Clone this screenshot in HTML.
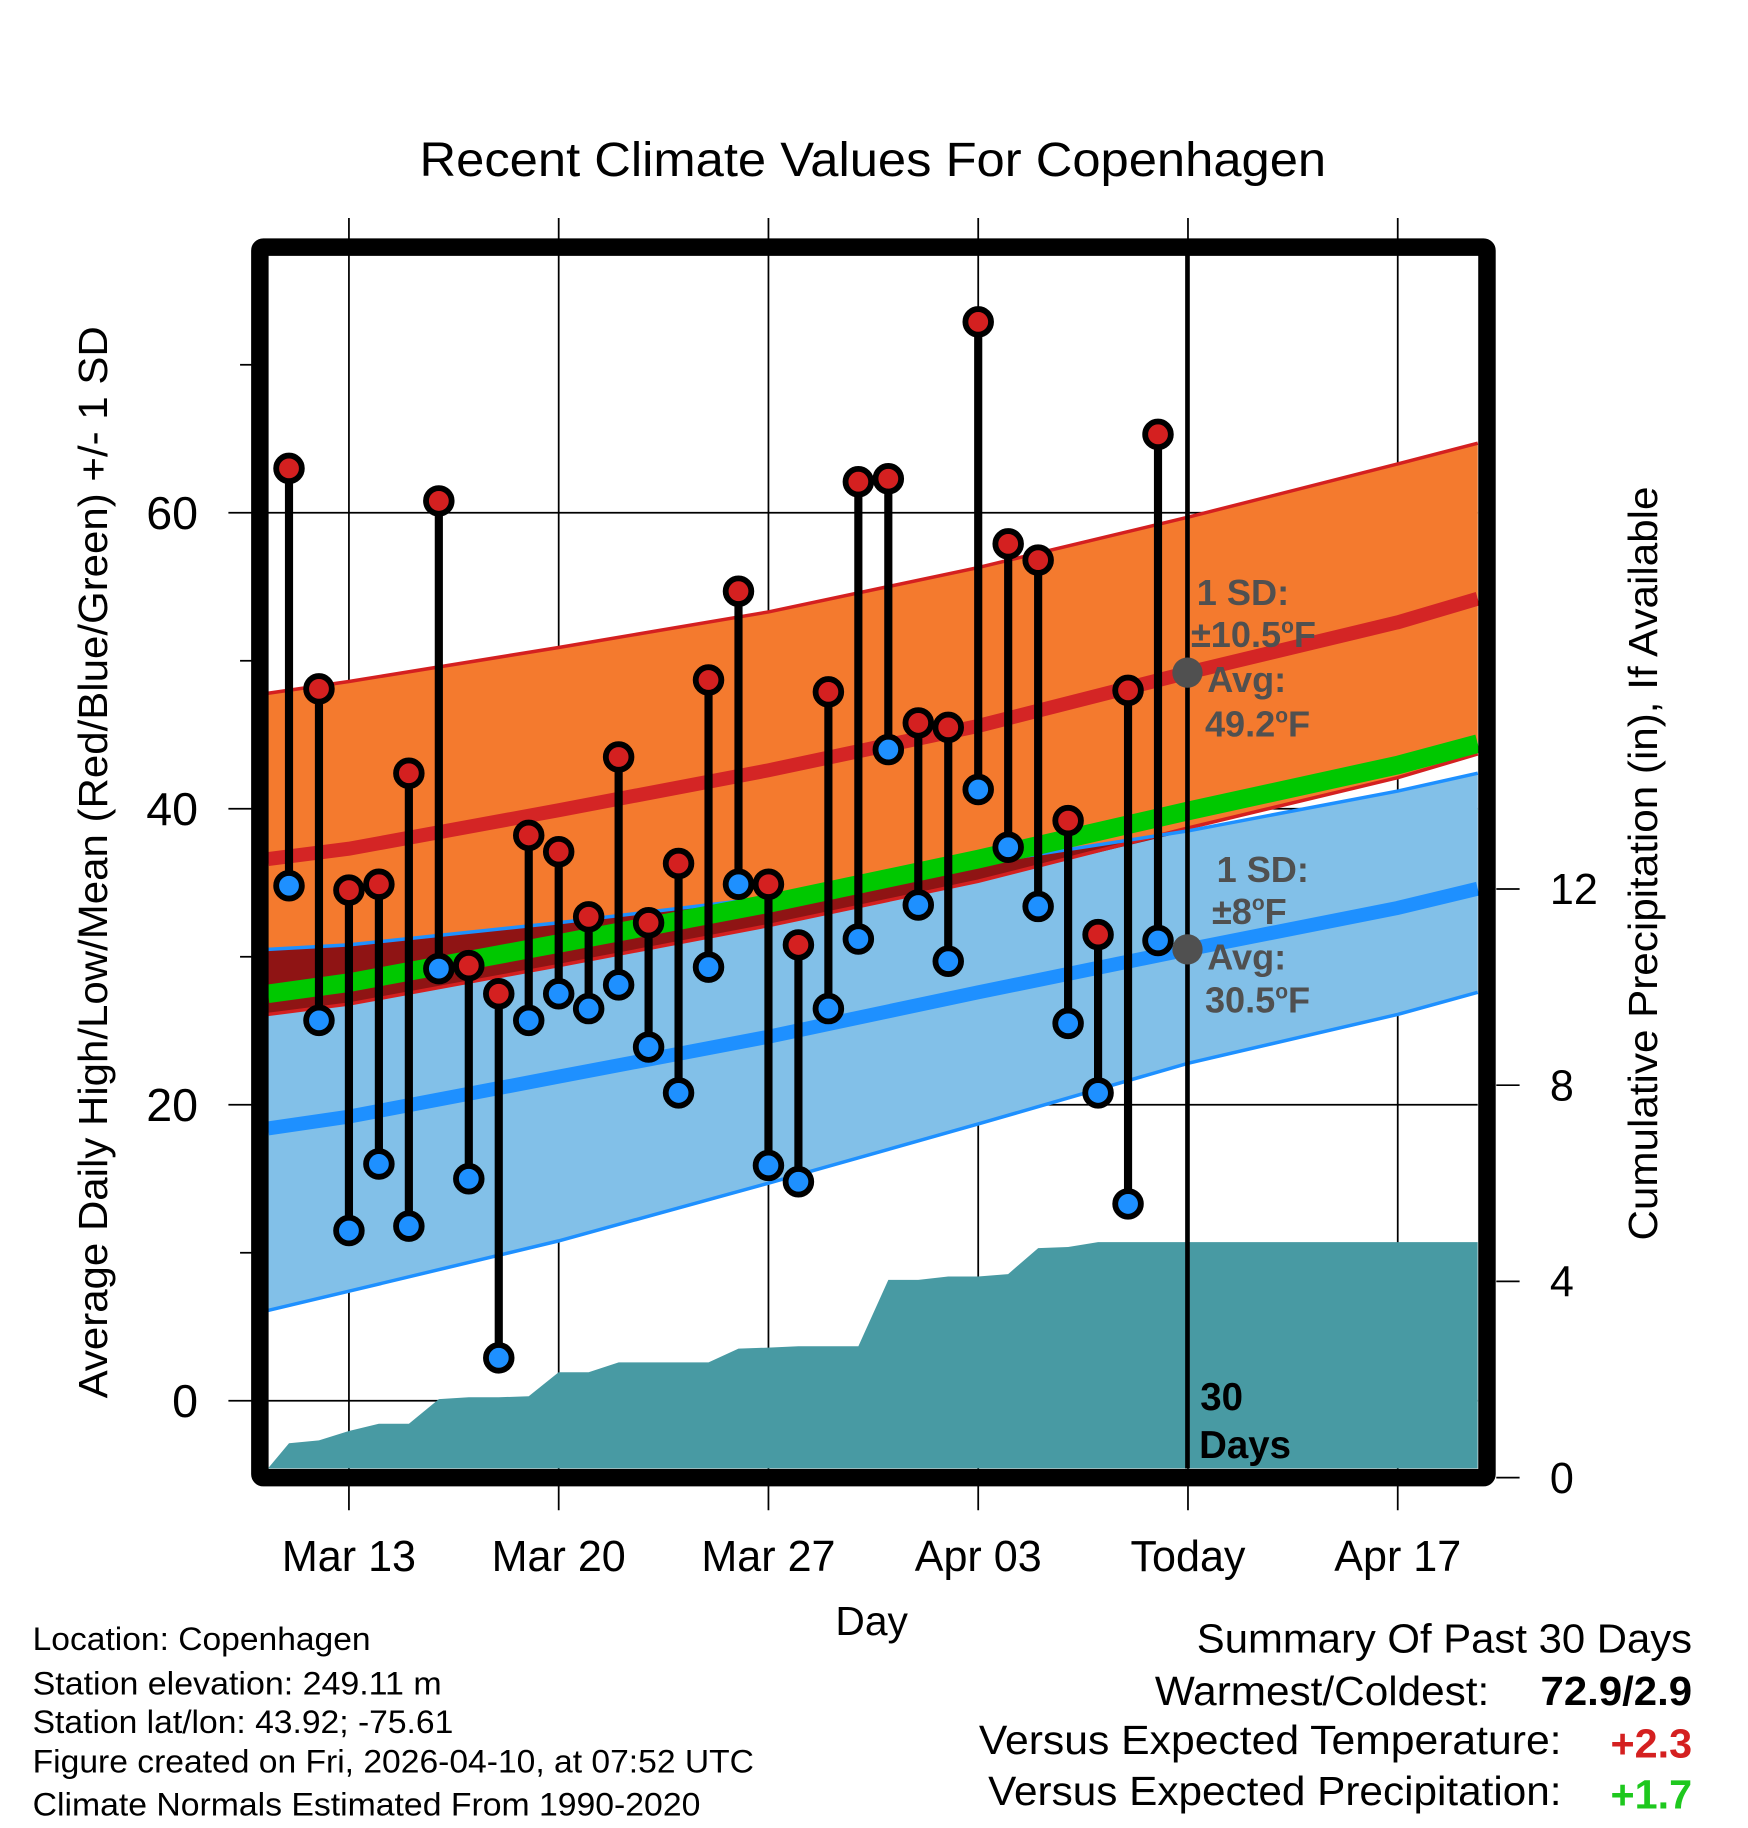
<!DOCTYPE html>
<html><head><meta charset="utf-8">
<style>
html,body{margin:0;padding:0;background:#fff;}
svg{display:block;font-family:"Liberation Sans",Arial,sans-serif;}
</style></head>
<body>
<svg id="chart" width="1748" height="1828" viewBox="0 0 1500 1568.6" xmlns="http://www.w3.org/2000/svg">
<rect x="0" y="0" width="1500" height="1568.6" fill="#fff"/>
<text x="749" y="151" font-size="41" text-anchor="middle" textLength="778" lengthAdjust="spacingAndGlyphs">Recent Climate Values For Copenhagen</text>
<g id="plot"></g>
</svg>
<script>
// ---- data ----
const dayLabels = ["Mar 13","Mar 20","Mar 27","Apr 03","Today","Apr 17"];
const dayLabelIdx = [2,9,16,23,30,37];
const highs = [63.0,48.1,34.5,34.9,42.4,60.8,29.4,27.5,38.2,37.1,32.7,43.5,32.3,36.3,48.7,54.7,34.9,30.8,47.9,62.1,62.3,45.8,45.5,72.9,57.9,56.8,39.2,31.5,48.0,65.3];
const lows  = [34.8,25.7,11.5,16.0,11.8,29.2,15.0,2.9,25.7,27.5,26.5,28.1,23.9,20.8,29.3,34.9,15.9,14.8,26.5,31.2,44.0,33.5,29.7,41.3,37.4,33.4,25.5,20.8,13.3,31.1];
const precip = [0.7,0.76,0.95,1.1,1.1,1.6,1.64,1.64,1.66,2.15,2.15,2.35,2.35,2.35,2.35,2.63,2.65,2.68,2.68,2.68,4.03,4.03,4.1,4.1,4.15,4.68,4.7,4.8,4.8,4.8];
const normIdx   = [-0.7,2,9,16,23,30,37,39.67];
const highUpper = [47.8,48.6,50.9,53.3,56.3,59.7,63.3,64.7];
const highAvg   = [36.6,37.3,39.9,42.6,45.6,49.2,52.6,54.2];
const highLower = [26.1,26.8,29.4,32.1,35.1,38.7,42.1,43.7];
const lowUpper  = [30.5,30.8,32.3,34.0,36.3,38.5,41.2,42.4];
const lowAvg    = [18.4,19.2,21.9,24.6,27.6,30.5,33.3,34.6];
const lowLower  = [6.1,7.4,10.8,14.7,18.7,22.8,26.1,27.6];
const yTicks = [0,20,40,60];
const yMinor = [10,30,50,70];
const pTicks = [0,4,8,12];

// ---- axes ----
const L=230,R=1268,T=219,B=1260;
const X = i => 248 + i*180/7;
const Y = v => 1202 - v*12.7;
const P = v => 1268 - v*42.1;
const g = document.getElementById('plot');
const NS='http://www.w3.org/2000/svg';
function mk(tag, attrs, parent){const e=document.createElementNS(NS,tag);for(const k in attrs)e.setAttribute(k,attrs[k]);(parent||g).appendChild(e);return e;}
function txt(s,attrs){const e=mk('text',attrs);e.textContent=s;return e;}
function pts(idx,vals){return idx.map((d,k)=>X(d).toFixed(1)+','+Y(vals[k]).toFixed(1));}
function band(up,lo){return pts(normIdx,up).concat(pts(normIdx,lo).reverse()).join(' ');}

yTicks.forEach(v=>{
  const l=mk('line',{x1:196,x2:R,y1:Y(v),y2:Y(v),stroke:'#000','stroke-width':1.5});
  
  
  const t=txt(String(v),{x:170,y:Y(v)+14,'font-size':40,'text-anchor':'end'});
  
  
});
yMinor.forEach(v=>{
  const l=mk('line',{x1:206,x2:216,y1:Y(v),y2:Y(v),stroke:'#000','stroke-width':1.5});
  
  
});
dayLabelIdx.forEach((d,k)=>{
  const x=X(d);
  const l=mk('line',{x1:x,x2:x,y1:187,y2:1296,stroke:'#000','stroke-width':1.5});
  
  
  const t=txt(dayLabels[k],{x:x,y:1348,'font-size':37,'text-anchor':'middle'});
  
  
});
pTicks.forEach(v=>{
  const l=mk('line',{x1:1284,x2:1304,y1:P(v),y2:P(v),stroke:'#000','stroke-width':1.5});
  
  
  const t=txt(String(v),{x:1330,y:P(v)+13,'font-size':37});
  
  
});

let e;
e=mk('polygon',{points:band(highUpper,highLower),fill:'#f47a2e'});


e=mk('polygon',{points:band(lowUpper,lowLower),fill:'#82c0e8'});


const ovUp=[],ovLo=[];
normIdx.forEach((d,k)=>{const u=Math.min(highUpper[k],lowUpper[k]);const lo=Math.max(highLower[k],lowLower[k]);ovUp.push(u);ovLo.push(Math.min(u,lo));});
e=mk('polygon',{points:band(ovUp,ovLo),fill:'#8f1414'});


function line(vals,color,w,name){const l=mk('polyline',{points:pts(normIdx,vals).join(' '),fill:'none',stroke:color,'stroke-width':w});}
line(highUpper,'#d42020',3,'high-upper-line');
line(highLower,'#d42020',3,'high-lower-line');
line(lowUpper,'#1e90ff',3,'low-upper-line');
line(lowLower,'#1e90ff',3,'low-lower-line');
line(highAvg,'#d42525',12,'high-avg-line');
line(lowAvg,'#1e90ff',12,'low-avg-line');
line(normIdx.map((d,k)=>(highAvg[k]+lowAvg[k])/2),'#00c800',16,'mean-line');

let pp=[L+','+B];
precip.forEach((v,i)=>pp.push(X(i).toFixed(1)+','+P(v).toFixed(1)));
pp.push(R+','+P(precip[precip.length-1]).toFixed(1));
pp.push(R+','+B);
e=mk('polygon',{points:pp.join(' '),fill:'#489aa3'});



e=mk('line',{x1:1019,x2:1019,y1:T,y2:B,stroke:'#000','stroke-width':4});



highs.forEach((h,i)=>{
  const s=mk('line',{x1:X(i),x2:X(i),y1:Y(h),y2:Y(lows[i]),stroke:'#000','stroke-width':7});
  
  
});
highs.forEach((h,i)=>{
  const c=mk('circle',{cx:X(i),cy:Y(h),r:11,fill:'#d42020',stroke:'#000','stroke-width':5});
  
  
  const c2=mk('circle',{cx:X(i),cy:Y(lows[i]),r:11,fill:'#1e90ff',stroke:'#000','stroke-width':5});
  
  
});

function ann(s,x,y,name){const t=mk('text',{x:x,y:y,'font-size':31,'font-weight':'bold',fill:'#505050'});t.innerHTML=s;}
e=mk('circle',{cx:1019,cy:Y(49.2),r:13,fill:'#505050'});


e=mk('circle',{cx:1019,cy:Y(30.5),r:13,fill:'#505050'});


ann('1 SD:',1027,519,'high-sd-label');
ann('±10.5<tspan dy="-12" font-size="18">o</tspan><tspan dy="12">F</tspan>',1022,555,'high-sd-value');
ann('Avg:',1036,594,'high-avg-label');
ann('49.2<tspan dy="-12" font-size="18">o</tspan><tspan dy="12">F</tspan>',1034,632,'high-avg-value');
ann('1 SD:',1044,757,'low-sd-label');
ann('±8<tspan dy="-12" font-size="18">o</tspan><tspan dy="12">F</tspan>',1040,793,'low-sd-value');
ann('Avg:',1036,832,'low-avg-label');
ann('30.5<tspan dy="-12" font-size="18">o</tspan><tspan dy="12">F</tspan>',1034,869,'low-avg-value');
e=txt('30',{x:1030,y:1210,'font-size':33,'font-weight':'bold'});


e=txt('Days',{x:1029,y:1251,'font-size':33,'font-weight':'bold'});



e=mk('rect',{x:223,y:212,width:1053,height:1056,fill:'none',stroke:'#000','stroke-width':15,rx:3});



e=txt('Average Daily High/Low/Mean (Red/Blue/Green) +/- 1 SD',{x:0,y:0,'font-size':35,'text-anchor':'middle',textLength:920,lengthAdjust:'spacingAndGlyphs',transform:'translate(92,740) rotate(-90)'});


e=txt('Cumulative Precipitation (in), If Available',{x:0,y:0,'font-size':35,'text-anchor':'middle',textLength:647,lengthAdjust:'spacingAndGlyphs',transform:'translate(1422,741) rotate(-90)'});


e=txt('Day',{x:748,y:1403,'font-size':35,'text-anchor':'middle'});



const infoLines=["Location: Copenhagen","Station elevation: 249.11 m","Station lat/lon: 43.92; -75.61","Figure created on Fri, 2026-04-10, at 07:52 UTC","Climate Normals Estimated From 1990-2020"];
const infoW=[290,351,361,619,573];
const infoY=[1416,1454,1487,1521,1558];
infoLines.forEach((s,k)=>{const t=txt(s,{x:28,y:infoY[k],'font-size':28,textLength:infoW[k],lengthAdjust:'spacingAndGlyphs'});});

function rt(s,x,y,w,attrs,name){const t=txt(s,Object.assign({x:x,y:y,'font-size':35,'text-anchor':'end',textLength:w,lengthAdjust:'spacingAndGlyphs'},attrs||{}));}
rt('Summary Of Past 30 Days',1452,1418,425,{},'summary-title');
rt('Warmest/Coldest:',1278,1463,287,{},'warmest-coldest-label');
rt('72.9/2.9',1452,1463,130,{'font-weight':'bold'},'warmest-coldest-value');
rt('Versus Expected Temperature:',1340,1505,500,{},'temp-anomaly-label');
rt('+2.3',1452,1508,70,{'font-weight':'bold',fill:'#d42020'},'temp-anomaly-value');
rt('Versus Expected Precipitation:',1340,1549,492,{},'precip-anomaly-label');
rt('+1.7',1452,1552,70,{'font-weight':'bold',fill:'#1ec81e'},'precip-anomaly-value');
</script>
</body></html>
